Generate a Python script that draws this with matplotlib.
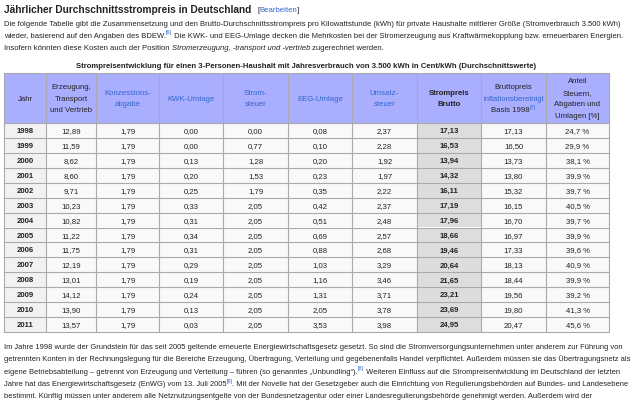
import matplotlib
matplotlib.use("Agg")
import matplotlib.pyplot as plt
from matplotlib.patches import Rectangle

plt.rcParams['font.family'] = ['Liberation Sans', 'DejaVu Sans']

# --- table data (Cent/kWh) ---
years = [1998, 1999, 2000, 2001, 2002, 2003, 2004, 2005, 2006, 2007, 2008, 2009, 2010, 2011]
erzeugung = [12.89, 11.59, 8.62, 8.60, 9.71, 10.23, 10.82, 11.22, 11.75, 12.19, 13.01, 14.12, 13.90, 13.57]
konzession = [1.79, 1.79, 1.79, 1.79, 1.79, 1.79, 1.79, 1.79, 1.79, 1.79, 1.79, 1.79, 1.79, 1.79]
kwk = [0.00, 0.00, 0.13, 0.20, 0.25, 0.33, 0.31, 0.34, 0.31, 0.29, 0.19, 0.24, 0.13, 0.03]
stromsteuer = [0.00, 0.77, 1.28, 1.53, 1.79, 2.05, 2.05, 2.05, 2.05, 2.05, 2.05, 2.05, 2.05, 2.05]
eeg = [0.08, 0.10, 0.20, 0.23, 0.35, 0.42, 0.51, 0.69, 0.88, 1.03, 1.16, 1.31, 2.05, 3.53]
umsatzsteuer = [2.37, 2.28, 1.92, 1.97, 2.22, 2.37, 2.48, 2.57, 2.68, 3.29, 3.46, 3.71, 3.78, 3.98]
brutto = [17.13, 16.53, 13.94, 14.32, 16.11, 17.19, 17.96, 18.66, 19.46, 20.64, 21.65, 23.21, 23.69, 24.95]
inflationsbereinigt = [17.13, 16.50, 13.73, 13.80, 15.32, 16.15, 16.70, 16.97, 17.33, 18.13, 18.44, 19.56, 19.80, 20.47]
anteil = [24.7, 29.9, 38.1, 39.9, 39.7, 40.5, 39.7, 39.9, 39.6, 40.9, 39.9, 39.2, 41.3, 45.6]

# header lines per column: list of lines, each line a list of (text, kind)
headers = [
    [[("Jahr", "n")]],
    [[("Erzeugung,", "n")], [("Transport", "n")], [("und Vertrieb", "n")]],
    [[("Konzessions-", "l")], [("abgabe", "l")]],
    [[("KWK-Umlage", "l")]],
    [[("Strom-", "l")], [("steuer", "l")]],
    [[("EEG-Umlage", "l")]],
    [[("Umsatz-", "l")], [("steuer", "l")]],
    [[("Strompreis", "b")], [("Brutto", "b")]],
    [[("Bruttopreis", "n")], [("inflationsbereinigt", "l")], [("Basis 1998", "n"), ("[7]", "s")]],
    [[("Anteil", "n")], [("Steuern,", "n")], [("Abgaben und", "n")], [("Umlagen [%]", "n")]],
]

intro = [
    [("Die folgende Tabelle gibt die Zusammensetzung und den Brutto-Durchschnittsstrompreis pro Kilowattstunde (kWh) für private Haushalte mittlerer Größe (Stromverbrauch 3.500 kWh)", "n")],
    [("wieder, basierend auf den Angaben des BDEW.", "n"), ("[6]", "s"),
     (" Die KWK- und EEG-Umlage decken die Mehrkosten bei der Stromerzeugung aus Kraftwärmekopplung bzw. erneuerbaren Energien.", "n")],
    [("Insofern könnten diese Kosten auch der Position ", "n"), ("Stromerzeugung, -transport und -vertrieb", "i"),
     (" zugerechnet werden.", "n")],
]

outro = [
    [("Im Jahre 1998 wurde der Grundstein für das seit 2005 geltende erneuerte Energiewirtschaftsgesetz gesetzt. So sind die Stromversorgungsunternehmen unter anderem zur Führung von", "n")],
    [("getrennten Konten in der Rechnungslegung für die Bereiche Erzeugung, Übertragung, Verteilung und gegebenenfalls Handel verpflichtet. Außerdem müssen sie das Übertragungsnetz als", "n")],
    [("eigene Betriebsabteilung – getrennt von Erzeugung und Verteilung – führen (so genanntes „Unbundling“).", "n"), ("[8]", "s"),
     (" Weiteren Einfluss auf die Strompreisentwicklung im Deutschland der letzten", "n")],
    [("Jahre hat das Energiewirtschaftsgesetz (EnWG) vom 13. Juli 2005", "n"), ("[9]", "s"),
     (". Mit der Novelle hat der Gesetzgeber auch die Einrichtung von Regulierungsbehörden auf Bundes- und Landesebene", "n")],
    [("bestimmt. Künftig müssen unter anderem alle Netznutzungsentgelte von der Bundesnetzagentur oder einer Landesregulierungsbehörde genehmigt werden. Außerdem wird der", "n")],
]

TEXT = "#222222"
LINK = "#3366cc"
HEAD_BG = "#aaaeff"
BORDER = "#aaaaaa"

W, H = 640, 403
fig = plt.figure(figsize=(W / 100, H / 100), dpi=100)
ax = fig.add_axes([0, 0, 1, 1])
ax.set_xlim(0, W)
ax.set_ylim(H, 0)
ax.axis("off")
renderer = fig.canvas.get_renderer()


def style(kind, size):
    kw = dict(fontsize=size, color=TEXT)
    if kind == "l":
        kw["color"] = LINK
    elif kind == "i":
        kw["style"] = "italic"
    elif kind == "b":
        kw["weight"] = "bold"
    elif kind == "s":
        kw.update(color=LINK, fontsize=size * 0.72)
    return kw


def seg_width(s, kw):
    a = ax.text(0, 0, "x" + s + "x", **kw)
    b = ax.text(0, 0, "xx", **kw)
    w = a.get_window_extent(renderer).width - b.get_window_extent(renderer).width
    a.remove()
    b.remove()
    return w


def run_width(segs, size):
    return sum(seg_width(s, style(k, size)) for s, k in segs)


def run(x, y, segs, size):
    for s, kind in segs:
        kw = style(kind, size)
        dy = -0.42 * size * 100 / 72 if kind == "s" else 0
        ax.text(x, y + dy, s, ha="left", va="baseline", **kw)
        x += seg_width(s, kw)
    return x


# heading
t_size = 10 * 248 / run_width([("Jährlicher Durchschnittsstrompreis in Deutschland", "b")], 10)
x = run(4, 13, [("Jährlicher Durchschnittsstrompreis in Deutschland", "b")], t_size)
edit = [("[", "n"), ("Bearbeiten", "l"), ("]", "n")]
e_size = 10 * 42 / run_width(edit, 10)
run(257, 12.5, edit, e_size)

# paragraph sizes fitted to the first line of each block
p_size = 10 * 618 / run_width(intro[0], 10)
for i, line in enumerate(intro):
    run(4, 25.5 + 12 * i, line, p_size)
o_size = 10 * 620 / run_width(outro[0], 10)
for i, line in enumerate(outro):
    run(4, 349 + 12.3 * i, line, o_size)

# table
edges = [4, 46, 96, 159, 223, 288, 352, 417, 481, 546, 609]
head_top, head_bot, tab_bot = 73, 123, 332
row_h = (tab_bot - head_bot) / len(years)
tab_size = 5.6

cap = [("Strompreisentwicklung für einen 3-Personen-Haushalt mit Jahresverbrauch von 3.500 kWh in Cent/kWh (Durchschnittswerte)", "b")]
c_size = 10 * 462 / run_width(cap, 10)
run(306.5 - run_width(cap, c_size) / 2, 68, cap, c_size)

ax.add_patch(Rectangle((edges[0], head_top), edges[-1] - edges[0], head_bot - head_top,
                       facecolor=HEAD_BG, edgecolor="none"))

columns = [erzeugung, konzession, kwk, stromsteuer, eeg, umsatzsteuer, brutto, inflationsbereinigt]
for r, year in enumerate(years):
    y0 = head_bot + r * row_h
    yc = y0 + row_h / 2
    for c in range(len(edges) - 1):
        if c == 0:
            fc = "#f2f2f2"
        elif c == 7:
            fc = "#dddddd"
        else:
            fc = "#f9f9f9"
        ax.add_patch(Rectangle((edges[c], y0), edges[c + 1] - edges[c], row_h,
                               facecolor=fc, edgecolor="none"))
    xc = [(edges[c] + edges[c + 1]) / 2 for c in range(len(edges) - 1)]
    ax.text(xc[0], yc + 2.6, str(year), ha="center", va="baseline", fontsize=tab_size,
            weight="bold", color=TEXT)
    for c, vals in enumerate(columns, start=1):
        ax.text(xc[c], yc + 2.6, f"{vals[r]:.2f}".replace(".", ","), ha="center", va="baseline",
                fontsize=tab_size, color=TEXT, weight="bold" if c == 7 else "normal")
    ax.text(xc[9], yc + 2.6, f"{anteil[r]:.1f} %".replace(".", ","), ha="center", va="baseline",
            fontsize=tab_size, color=TEXT)

# grid lines
for e in edges:
    ax.plot([e, e], [head_top, tab_bot], color=BORDER, lw=0.8, solid_capstyle="butt")
ax.plot([edges[0], edges[-1]], [head_top, head_top], color=BORDER, lw=0.8)
for r in range(len(years) + 1):
    yy = head_bot + r * row_h
    ax.plot([edges[0], edges[-1]], [yy, yy], color=BORDER, lw=0.8)

# header text
line_gap = 11.5
for c, lines in enumerate(headers):
    xc = (edges[c] + edges[c + 1]) / 2
    n = len(lines)
    mid = (head_top + head_bot) / 2
    for i, segs in enumerate(lines):
        base = mid + (i - (n - 1) / 2) * line_gap + 2.6
        run(xc - run_width(segs, tab_size) / 2, base, segs, tab_size)

fig.savefig("out.png", dpi=100)
